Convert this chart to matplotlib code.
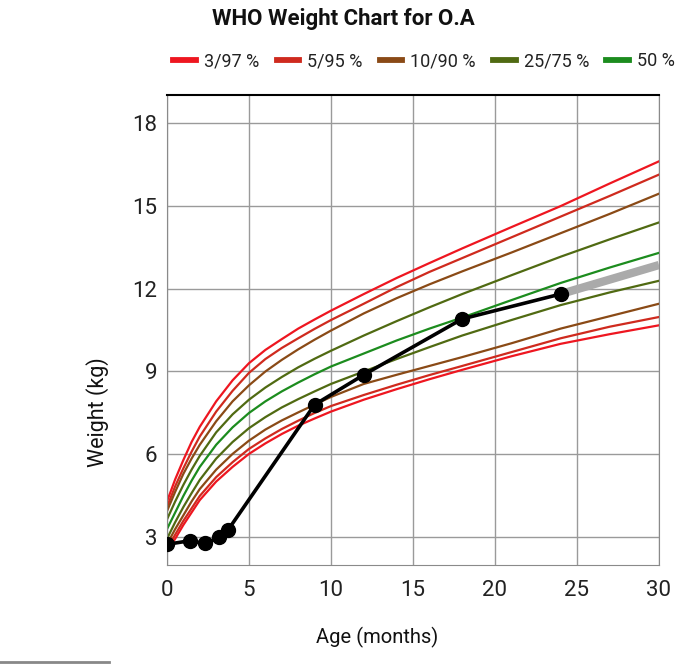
import matplotlib
matplotlib.use('Agg')
import matplotlib.pyplot as plt
from matplotlib.lines import Line2D

plt.rcParams['font.family'] = ['Roboto', 'DejaVu Sans']

# WHO reference curves (kg)
ages = [0, 0.5, 1, 1.5, 2, 3, 4, 5, 6, 7, 8, 9, 10, 12, 14, 16, 18, 21, 24, 27, 30]
p3 = [2.5, 2.95, 3.45, 3.9, 4.35, 5.02, 5.55, 6.02, 6.4, 6.74, 7.04, 7.3, 7.55,
      7.98, 8.36, 8.72, 9.06, 9.55, 10.0, 10.35, 10.67]
p5 = [2.6, 3.1, 3.6, 4.05, 4.5, 5.18, 5.72, 6.2, 6.58, 6.92, 7.22, 7.5, 7.75,
      8.15, 8.52, 8.87, 9.2, 9.7, 10.2, 10.62, 10.97]
p10 = [2.75, 3.3, 3.8, 4.3, 4.75, 5.45, 6.02, 6.5, 6.9, 7.23, 7.52, 7.8, 8.08,
       8.55, 8.88, 9.2, 9.52, 10.02, 10.55, 11.0, 11.45]
p25 = [2.95, 3.55, 4.1, 4.6, 5.08, 5.85, 6.45, 6.95, 7.35, 7.7, 8.0, 8.28, 8.55,
       9.0, 9.45, 9.88, 10.3, 10.86, 11.4, 11.86, 12.28]
p50 = [3.3, 3.9, 4.5, 5.05, 5.55, 6.35, 6.98, 7.5, 7.92, 8.28, 8.6, 8.9, 9.18,
       9.65, 10.12, 10.55, 10.95, 11.58, 12.2, 12.76, 13.29]
p75 = [3.65, 4.3, 4.9, 5.45, 5.95, 6.8, 7.45, 7.98, 8.42, 8.8, 9.15, 9.46, 9.75,
       10.3, 10.82, 11.32, 11.8, 12.48, 13.15, 13.78, 14.39]
p90 = [3.95, 4.65, 5.3, 5.85, 6.35, 7.2, 7.92, 8.5, 9.0, 9.42, 9.8, 10.15, 10.48,
       11.1, 11.65, 12.15, 12.62, 13.3, 14.0, 14.7, 15.43]
p95 = [4.1, 4.85, 5.5, 6.1, 6.65, 7.55, 8.3, 8.95, 9.45, 9.85, 10.2, 10.54, 10.86,
       11.45, 12.05, 12.6, 13.1, 13.85, 14.6, 15.35, 16.12]
p97 = [4.3, 5.1, 5.8, 6.45, 7.0, 7.92, 8.68, 9.3, 9.78, 10.17, 10.55, 10.88, 11.2,
       11.8, 12.38, 12.92, 13.45, 14.22, 14.98, 15.8, 16.6]

# child measurements
childAge = [0, 1.4, 2.3, 3.2, 3.7, 9, 12, 18, 24]
childWeight = [2.75, 2.88, 2.78, 3.0, 3.25, 7.8, 8.88, 10.9, 11.8]
projAge = [24, 30]
projWeight = [11.8, 12.85]

legendLabels = ['3/97 %', '5/95 %', '10/90 %', '25/75 %', '50 %']
colors = ['#ee1620', '#cf2a1e', '#8a4a16', '#506a12', '#1c8c1e']

fig = plt.figure(figsize=(6.92, 6.64), dpi=100)
ax = fig.add_axes([0.2413, 0.149, 0.711, 0.708])

pairs = [(p3, p97), (p5, p95), (p10, p90), (p25, p75)]
for (low, high), c in zip(pairs, colors):
    ax.plot(ages, low, color=c, lw=1.6, zorder=2)
    ax.plot(ages, high, color=c, lw=1.6, zorder=2)
ax.plot(ages, p50, color=colors[4], lw=1.6, zorder=2)

ax.plot(projAge, projWeight, color='#aaaaaa', lw=6, solid_capstyle='butt', zorder=3)
ax.plot(childAge, childWeight, color='black', lw=2.6, marker='o', ms=10, zorder=4)

ax.set_xlim(0, 30)
ax.set_ylim(2, 19)
ax.set_xticks(range(0, 31, 5))
ax.set_yticks(range(3, 19, 3))
ax.grid(True, color='#9a9a9a', lw=1)
ax.set_axisbelow(True)
ax.tick_params(length=0, labelsize=16, colors='#222222')
ax.tick_params(axis='x', pad=11)
ax.tick_params(axis='y', pad=7)
for side in ['left', 'right', 'bottom']:
    ax.spines[side].set_color('#8a8a8a')
ax.spines['top'].set_color('black')
ax.spines['top'].set_linewidth(1.5)

ax.set_ylabel('Weight (kg)', fontsize=15.5, color='#111111')
ax.yaxis.set_label_coords(-0.118, 0.326)
ax.set_xlabel('Age (months)', fontsize=14.5, color='#111111')
ax.xaxis.set_label_coords(0.427, -0.132)

fig.text(0.496, 0.972, 'WHO Weight Chart for O.A', ha='center', va='center',
         fontsize=16, fontweight='bold', color='#111111')

handles = [Line2D([], [], color=c, lw=4.2) for c in colors]
fig.legend(handles, legendLabels, loc='center', bbox_to_anchor=(0.613, 0.908), ncol=5,
           frameon=False, fontsize=13, handlelength=1.25, handletextpad=0.45,
           columnspacing=0.95, labelcolor='#222222')

# stray gray bar at the bottom left of the screenshot
fig.add_artist(Line2D([0, 0.157], [0.003, 0.003], color='#888888', lw=2))

fig.savefig('out.png', dpi=100)
